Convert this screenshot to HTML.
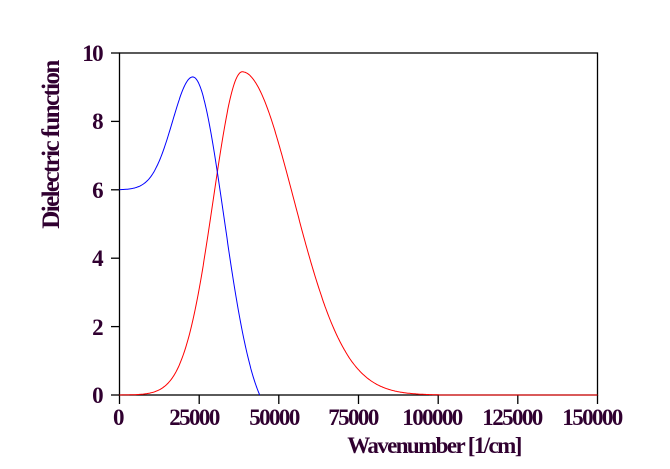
<!DOCTYPE html>
<html><head><meta charset="utf-8"><style>body{margin:0;background:#fff}svg text{font-family:"Liberation Serif",serif;font-size:23px;font-weight:bold;fill:#300030;letter-spacing:-1.6px}</style></head>
<body><svg id="s" width="670" height="464" xmlns="http://www.w3.org/2000/svg">
<g stroke="#000" stroke-width="1.3" fill="none">
<rect x="119.5" y="53" width="478" height="342"/>
<line x1="111" y1="53" x2="119.5" y2="53"/><line x1="111" y1="121.4" x2="119.5" y2="121.4"/><line x1="111" y1="189.8" x2="119.5" y2="189.8"/><line x1="111" y1="258.2" x2="119.5" y2="258.2"/><line x1="111" y1="326.6" x2="119.5" y2="326.6"/><line x1="111" y1="395" x2="119.5" y2="395"/>
<line x1="119.5" y1="395" x2="119.5" y2="404"/><line x1="199.2" y1="395" x2="199.2" y2="404"/><line x1="278.8" y1="395" x2="278.8" y2="404"/><line x1="358.5" y1="395" x2="358.5" y2="404"/><line x1="438.2" y1="395" x2="438.2" y2="404"/><line x1="517.8" y1="395" x2="517.8" y2="404"/><line x1="597.5" y1="395" x2="597.5" y2="404"/>
</g>
<path id="r" stroke="#f00" fill="none" stroke-width="1"/>
<path id="b" stroke="#00f" fill="none" stroke-width="1"/>
<g text-anchor="end"><text x="102" y="61">10</text><text x="102" y="129">8</text><text x="102" y="198">6</text><text x="102" y="266">4</text><text x="102" y="335">2</text><text x="102" y="403">0</text></g>
<g text-anchor="middle"><text x="118" y="425">0</text><text x="194" y="425">25000</text><text x="274" y="425">50000</text><text x="353" y="425">75000</text><text x="432" y="425">100000</text><text x="512" y="425">125000</text><text x="592" y="425">150000</text>
<text x="434" y="453">Wavenumber [1/cm]</text>
<text transform="translate(59,145) rotate(-90)" style="font-size:25px">Dielectric function</text></g>
</svg>
<script>
function X(x){return 119.5+x*478/150000}function Y(v){return 395-v*34.2}
var r="",b="";
for(var x=0;x<=150000;x+=250){var v;if(x>100000)v=0;else if(x<38500)v=9.45*Math.exp(-Math.pow((x-38500)/12800,2));else v=9.45*Math.exp(-Math.pow((x-38500)/22860,2));r+=(x?"L":"M")+X(x).toFixed(1)+" "+Y(v).toFixed(1)}
var g44=Math.exp(-Math.pow(21000/13700,2));
for(var x=0;x<=44000;x+=250){var v;if(x<23000)v=6+3.3*Math.exp(-Math.pow((x-23000)/9000,2));else v=9.3*(Math.exp(-Math.pow((x-23000)/13700,2))-g44)/(1-g44);b+=(x?"L":"M")+X(x).toFixed(1)+" "+Y(v).toFixed(1)}
document.getElementById("r").setAttribute("d",r);document.getElementById("b").setAttribute("d",b);
</script></body></html>
